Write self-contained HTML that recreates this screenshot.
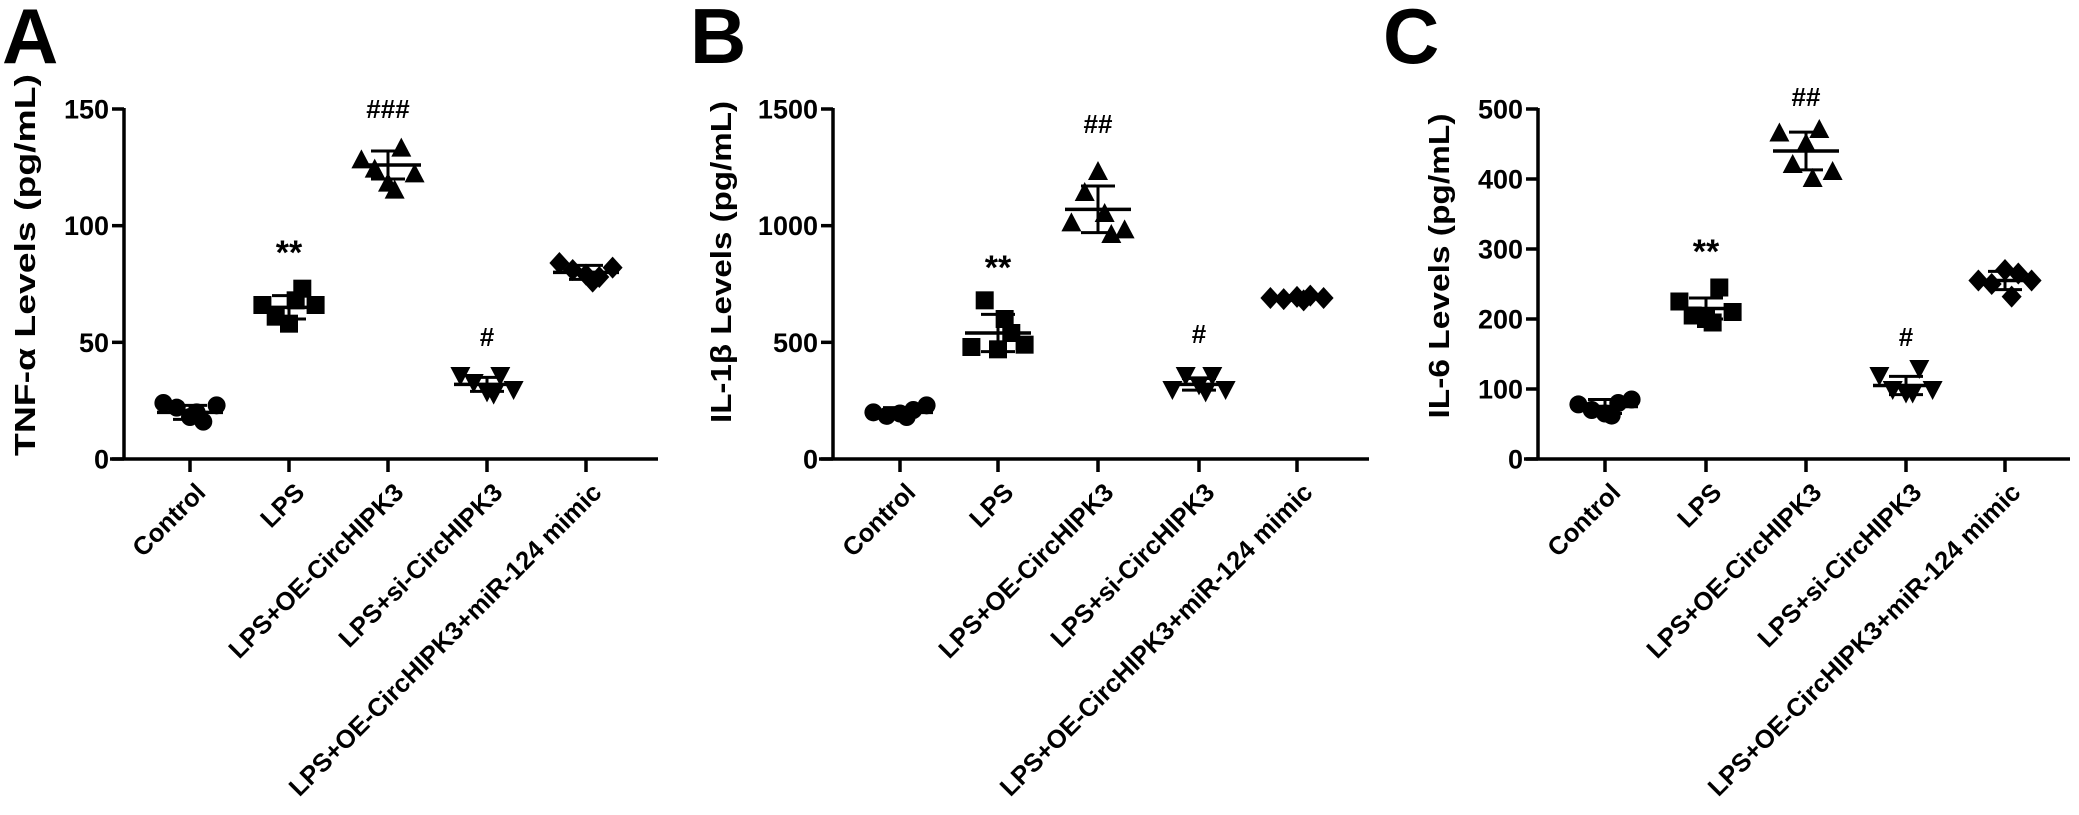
<!DOCTYPE html>
<html><head><meta charset="utf-8"><style>
html,body{margin:0;padding:0;background:#fff;}
svg{display:block;}
text{font-family:"Liberation Sans",Arial,sans-serif;font-weight:bold;fill:#000;}
</style></head><body>
<svg id="s" width="2079" height="815" viewBox="0 0 2079 815" xmlns="http://www.w3.org/2000/svg"></svg>
<script>
const S=document.getElementById('s');
let h='';
const labels=["Control","LPS","LPS+OE-CircHIPK3","LPS+si-CircHIPK3","LPS+OE-CircHIPK3+miR-124 mimic"];
function panel(o){
  const {ax,end,ticks,max,step,ylab,ylx,ylc,yll,letter,lx,data,ann}=o;
  const y0=459,yt=109;
  const Y=v=>y0-(v/max)*(y0-yt);
  h+=`<text x="${lx}" y="63" font-size="78">${letter}</text>`;
  h+=`<line x1="${ax}" y1="${yt-1}" x2="${ax}" y2="${y0+1.5}" stroke="#000" stroke-width="3.5"/>`;
  h+=`<line x1="${ax-14}" y1="${y0}" x2="${end}" y2="${y0}" stroke="#000" stroke-width="3.5"/>`;
  for(let v=0;v<=max;v+=step){const y=Y(v);
    h+=`<line x1="${ax-12}" y1="${y}" x2="${ax}" y2="${y}" stroke="#000" stroke-width="3.5"/>`;
    h+=`<text x="${ax-15}" y="${y+9.5}" font-size="27" text-anchor="end">${v}</text>`;}
  h+=`<text transform="translate(${ylx},${ylc}) rotate(-90)" font-size="29" text-anchor="middle" textLength="${yll}" lengthAdjust="spacingAndGlyphs">${ylab}</text>`;
  ticks.forEach((t,i)=>{
    h+=`<line x1="${t}" y1="${y0}" x2="${t}" y2="${y0+13}" stroke="#000" stroke-width="3.5"/>`;
    h+=`<text transform="translate(${t+17},${y0+35}) rotate(-45)" font-size="25.5" text-anchor="end">${labels[i]}</text>`;
  });
  const shapes=['c','s','t','v','d'];
  data.forEach((d,i)=>{
    const x=ticks[i];const [m,sd,pts]=d;
    pts.forEach((p,j)=>{
      const px=x+[-28,-14,0,14,28,7][j]*0.95, py=Y(p);
      const sh=shapes[i];
      if(sh=='c')h+=`<circle cx="${px}" cy="${py}" r="9"/>`;
      if(sh=='s')h+=`<rect x="${px-9}" y="${py-9}" width="18" height="18"/>`;
      if(sh=='t')h+=`<polygon points="${px},${py-11} ${px+10},${py+8} ${px-10},${py+8}"/>`;
      if(sh=='v')h+=`<polygon points="${px},${py+11} ${px+10},${py-8} ${px-10},${py-8}"/>`;
      if(sh=='d')h+=`<polygon points="${px},${py-11} ${px+10},${py} ${px},${py+11} ${px-10},${py}"/>`;
    });
    const ym=Y(m),yu=Y(m+sd),yd=Y(m-sd);
    h+=`<line x1="${x-33}" y1="${ym}" x2="${x+33}" y2="${ym}" stroke="#000" stroke-width="3.5"/>`;
    h+=`<line x1="${x}" y1="${yu}" x2="${x}" y2="${yd}" stroke="#000" stroke-width="3"/>`;
    h+=`<line x1="${x-17}" y1="${yu}" x2="${x+17}" y2="${yu}" stroke="#000" stroke-width="3"/>`;
    h+=`<line x1="${x-17}" y1="${yd}" x2="${x+17}" y2="${yd}" stroke="#000" stroke-width="3"/>`;
  });
  ann.forEach(a=>{h+=`<text x="${ticks[a[0]]}" y="${a[2]}" font-size="${a[1]=='**'?34:26}" text-anchor="middle">${a[1]}</text>`;});
}
panel({ax:124,end:658,ticks:[190,289,388,487,586],max:150,step:50,ylab:"TNF-α Levels (pg/mL)",ylx:35,ylc:265,yll:382,letter:"A",lx:2,
 data:[[20,3,[24,22,18,16,23,20]],[65,5,[66,61,58,73,66,68]],[126,6,[128,124,118,133,122,115]],[32,3,[36,33,29,36,30,28]],[80,3,[84,81,79,78,82,76]]],
 ann:[[1,"**",264],[2,"###",118],[3,"#",346]]});
panel({ax:833,end:1369,ticks:[900,998,1098,1199,1297],max:1500,step:500,ylab:"IL-1β Levels (pg/mL)",ylx:731,ylc:262,yll:322,letter:"B",lx:690,
 data:[[200,20,[200,185,195,210,230,180]],[540,80,[480,680,470,540,490,600]],[1070,100,[1010,1140,1230,960,980,1050]],[320,25,[300,360,320,360,300,290]],[690,10,[690,685,695,700,690,680]]],
 ann:[[1,"**",279],[2,"##",133],[3,"#",343]]});
panel({ax:1538,end:2070,ticks:[1605,1706,1806,1906,2005],max:500,step:100,ylab:"IL-6 Levels (pg/mL)",ylx:1449,ylc:266,yll:305,letter:"C",lx:1383,
 data:[[75,10,[78,70,65,80,85,62]],[215,15,[225,205,200,245,210,195]],[440,27,[465,420,450,470,410,400]],[105,13,[120,100,95,130,100,95]],[255,13,[255,250,270,265,255,232]]],
 ann:[[1,"**",263],[2,"##",106],[3,"#",346]]});
S.innerHTML=h;
</script>
</body></html>
